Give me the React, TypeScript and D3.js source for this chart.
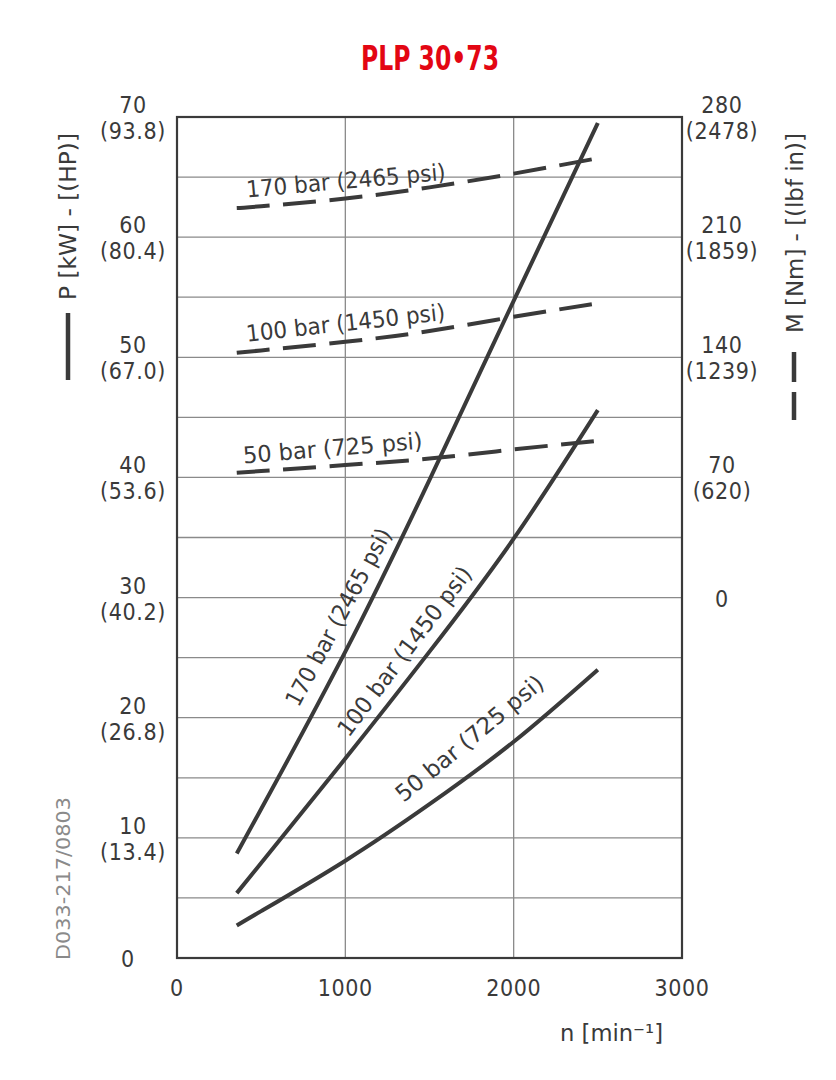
import * as d3 from 'd3';
import React from 'react';

const speeds = [355, 500, 1000, 1500, 2000, 2500];

// power curves, kW (solid)
const power170 = [8.7, 12.4, 25.5, 39.8, 54.7, 69.5];
const power100 = [5.4, 7.9, 16.6, 25.5, 34.9, 45.6];
const power50 = [2.7, 3.9, 8.1, 12.8, 18.0, 24.0];

// torque curves, Nm (dashed, right axis)
const torque170 = [227, 228, 232.5, 239, 247, 256];
const torque100 = [142.6, 144, 149, 155.3, 163.6, 171.4];
const torque50 = [72.7, 73.7, 77.2, 81.0, 86.3, 91.3];

const pressureLabels = ['170 bar (2465 psi)', '100 bar (1450 psi)', '50 bar (725 psi)'];

const powerTicks = [0, 10, 20, 30, 40, 50, 60, 70];
const hpTicks = ['', '(13.4)', '(26.8)', '(40.2)', '(53.6)', '(67.0)', '(80.4)', '(93.8)'];
const torqueTicks = [0, 70, 140, 210, 280];
const lbfTicks = ['', '(620)', '(1239)', '(1859)', '(2478)'];
const speedTicks = [0, 1000, 2000, 3000];

// label anchors in data units: [speed, value, angle, length]
const powerLabelPos = [
  [722, 20.8, -61.8, 198],
  [1020, 18.3, -52.9, 206],
  [1346, 12.9, -39.5, 184],
];
const torqueLabelPos = [
  [416, 233.1, -5.1, 200],
  [416, 149.0, -6.3, 200],
  [396, 78.1, -4.8, 180],
];

const W = 836;
const H = 1080;
const ink = '#3a3a3a';
const font = '"DejaVu Sans Condensed", "DejaVu Sans", sans-serif';
const fs = 23;

const App: React.FC = () => {
  const x = d3.scaleLinear().domain([0, 3000]).range([177, 682]);
  const y = d3.scaleLinear().domain([0, 70]).range([958, 117]);
  const yT = d3.scaleLinear().domain([0, 280]).range([y(30), y(70)]);

  const powerLine = d3
    .line<number>()
    .x((_, i) => x(speeds[i]))
    .y(d => y(d))
    .curve(d3.curveNatural);
  const torqueLine = d3
    .line<number>()
    .x((_, i) => x(speeds[i]))
    .y(d => yT(d))
    .curve(d3.curveNatural);

  const powers = [power170, power100, power50];
  const torques = [torque170, torque100, torque50];
  const hGrid = d3.range(5, 70, 5);

  return (
    <svg
      width={W}
      height={H}
      viewBox={`0 0 ${W} ${H}`}
      style={{ position: 'absolute', left: 0, top: 0, background: '#fff' }}
      fontFamily={font}
    >
      <rect width={W} height={H} fill="#fff" />

      <text
        x={430}
        y={70}
        textAnchor="middle"
        fill="#e30613"
        fontWeight="bold"
        fontSize={34}
        textLength={138}
        lengthAdjust="spacingAndGlyphs"
      >
        PLP 30•73
      </text>

      {/* grid */}
      {hGrid.map(v => (
        <line key={'h' + v} x1={x(0)} x2={x(3000)} y1={y(v)} y2={y(v)} stroke="#8a8a8a" strokeWidth={1.3} />
      ))}
      {[1000, 2000].map(v => (
        <line key={'v' + v} x1={x(v)} x2={x(v)} y1={y(0)} y2={y(70)} stroke="#8a8a8a" strokeWidth={1.3} />
      ))}
      <rect x={x(0)} y={y(70)} width={x(3000) - x(0)} height={y(0) - y(70)} fill="none" stroke={ink} strokeWidth={2.2} />

      {/* curves */}
      {torques.map((t, i) => (
        <path
          key={'t' + i}
          d={torqueLine(t) || ''}
          fill="none"
          stroke={ink}
          strokeWidth={4}
          strokeDasharray="33 13.5"
        />
      ))}
      {powers.map((p, i) => (
        <path key={'p' + i} d={powerLine(p) || ''} fill="none" stroke={ink} strokeWidth={4} />
      ))}

      {/* curve labels */}
      {powerLabelPos.map(([n, v, a, len], i) => (
        <text
          key={'pl' + i}
          transform={`translate(${x(n)},${y(v)}) rotate(${a})`}
          fontSize={fs}
          fill={ink}
          textLength={len}
          lengthAdjust="spacingAndGlyphs"
        >
          {pressureLabels[i]}
        </text>
      ))}
      {torqueLabelPos.map(([n, v, a, len], i) => (
        <text
          key={'tl' + i}
          transform={`translate(${x(n)},${yT(v)}) rotate(${a})`}
          fontSize={fs}
          fill={ink}
          textLength={len}
          lengthAdjust="spacingAndGlyphs"
        >
          {pressureLabels[i]}
        </text>
      ))}

      {/* left axis labels */}
      <g fontSize={fs} fill={ink} textAnchor="middle" letterSpacing={0.6}>
        {powerTicks.map((v, i) =>
          v === 0 ? (
            <text key={'lk' + v} x={128} y={y(v) + 9}>
              0
            </text>
          ) : (
            <g key={'lk' + v}>
              <text x={133} y={y(v) - 4}>
                {v}
              </text>
              <text x={133} y={y(v) + 22}>
                {hpTicks[i]}
              </text>
            </g>
          )
        )}
      </g>

      {/* right axis labels */}
      <g fontSize={fs} fill={ink} textAnchor="middle" letterSpacing={0.6}>
        {torqueTicks.map((v, i) =>
          v === 0 ? (
            <text key={'rk' + v} x={722} y={yT(v) + 9}>
              0
            </text>
          ) : (
            <g key={'rk' + v}>
              <text x={722} y={yT(v) - 4}>
                {v}
              </text>
              <text x={722} y={yT(v) + 22}>
                {lbfTicks[i]}
              </text>
            </g>
          )
        )}
      </g>

      {/* bottom axis labels */}
      <g fontSize={fs} fill={ink} textAnchor="middle" letterSpacing={0.6}>
        {speedTicks.map(v => (
          <text key={'bk' + v} x={x(v)} y={996}>
            {v}
          </text>
        ))}
      </g>
      <text x={560} y={1041} fontSize={fs} fill={ink} textLength={103} lengthAdjust="spacingAndGlyphs">
        n  [min⁻¹]
      </text>

      {/* axis titles */}
      <text
        transform="translate(76,300) rotate(-90)"
        fontSize={fs}
        fill={ink}
        textLength={167}
        lengthAdjust="spacingAndGlyphs"
      >
        P [kW] - [(HP)]
      </text>
      <line x1={68} x2={68} y1={313} y2={380} stroke={ink} strokeWidth={4.5} />

      <text
        transform="translate(803,333) rotate(-90)"
        fontSize={fs}
        fill={ink}
        textLength={200}
        lengthAdjust="spacingAndGlyphs"
      >
        M [Nm] - [(lbf in)]
      </text>
      <line x1={794} x2={794} y1={352} y2={420} stroke={ink} strokeWidth={4.5} strokeDasharray="30 10" />

      <text
        transform="translate(70,960) rotate(-90)"
        fontSize={19}
        fill="#8a8a8a"
        textLength={163}
        lengthAdjust="spacingAndGlyphs"
      >
        D033-217/0803
      </text>
    </svg>
  );
};

export default App;
